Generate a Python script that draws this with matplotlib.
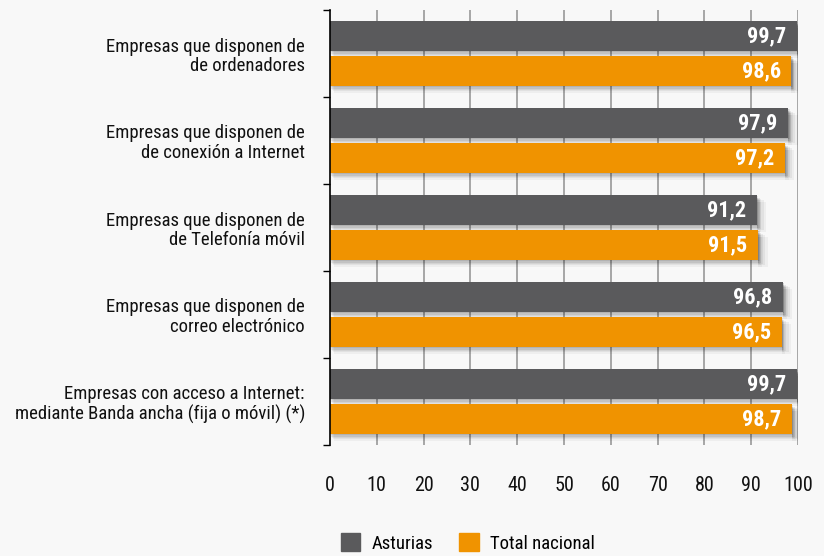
import matplotlib
matplotlib.use("Agg")
import matplotlib.pyplot as plt
from matplotlib.patches import Patch
import numpy as np

categorias = [
    "Empresas que disponen de\nde ordenadores",
    "Empresas que disponen de\nde conexión a Internet",
    "Empresas que disponen de\nde Telefonía móvil",
    "Empresas que disponen de\ncorreo electrónico",
    "Empresas con acceso a Internet:\nmediante Banda ancha (fija o móvil) (*)",
]
asturias = [99.7, 97.9, 91.2, 96.8, 99.7]
nacional = [98.6, 97.2, 91.5, 96.5, 98.7]
series = ["Asturias", "Total nacional"]
ticks = [0, 10, 20, 30, 40, 50, 60, 70, 80, 90, 100]

gris = "#5a5a5c"
naranja = "#f09300"
fondo = "#f8f8f8"

plt.rcParams["font.family"] = ["Roboto Condensed", "DejaVu Sans"]

fig = plt.figure(figsize=(8.24, 5.56), dpi=100, facecolor=fondo)
ax = fig.add_axes([330 / 824, 1 - 445 / 556, 468 / 824, 435 / 556], facecolor=fondo)

n = len(categorias)
y = np.arange(n)
h = 0.345
off = 0.2

# vertical grid
for t in ticks[1:]:
    ax.axvline(t, color="#a0a0a0", lw=1.3, zorder=0)

# soft drop shadow
for dx, dy, a in [(2.0, 0.08, 0.04), (1.5, 0.06, 0.05), (1.0, 0.045, 0.06), (0.6, 0.03, 0.08), (0.3, 0.015, 0.08)]:
    ax.barh(y - off + dy, asturias, height=h, left=dx * 0.4, color="black", alpha=a, zorder=1, lw=0)
    ax.barh(y + off + dy, nacional, height=h, left=dx * 0.4, color="black", alpha=a, zorder=1, lw=0)
    ax.barh(y - off + dy, [dx] * n, height=h, left=asturias, color="black", alpha=a, zorder=1, lw=0)
    ax.barh(y + off + dy, [dx] * n, height=h, left=nacional, color="black", alpha=a, zorder=1, lw=0)

ax.barh(y - off, asturias, height=h, color=gris, zorder=2, lw=0)
ax.barh(y + off, nacional, height=h, color=naranja, zorder=2, lw=0)

for i in range(n):
    ax.text(asturias[i] - 2.3, y[i] - off, f"{asturias[i]:.1f}".replace(".", ","),
            ha="right", va="center", color="white", fontsize=16, fontweight="bold", zorder=3)
    ax.text(nacional[i] - 2.3, y[i] + off, f"{nacional[i]:.1f}".replace(".", ","),
            ha="right", va="center", color="white", fontsize=16, fontweight="bold", zorder=3)

ax.set_xlim(0, 100)
ax.set_ylim(n - 0.5, -0.5)
ax.set_xticks(ticks)
ax.set_xticklabels([str(t) for t in ticks], fontsize=14.5, color="#111111")
ax.tick_params(axis="x", length=0, pad=22)
ax.set_yticks(np.arange(n + 1) - 0.5, minor=True)
ax.set_yticks(y)
ax.set_yticklabels(categorias, fontsize=13.5, color="#111111", ha="right", linespacing=1.1)
ax.tick_params(axis="y", which="major", length=0, pad=18)
ax.tick_params(axis="y", which="minor", length=5, width=1, color="black")
for lab in ax.get_yticklabels():
    lab.set_multialignment("right")
for s in ["top", "right", "bottom"]:
    ax.spines[s].set_visible(False)
ax.spines["left"].set_color("black")
ax.spines["left"].set_linewidth(1.2)

handles = [Patch(color=gris), Patch(color=naranja)]
fig.legend(handles, series, loc="center", bbox_to_anchor=(468 / 824, 13 / 556), ncol=2,
           frameon=False, fontsize=13.5, handlelength=1.05, handleheight=1.05,
           columnspacing=1.4, handletextpad=0.6, borderpad=0)

fig.savefig("out.png", dpi=100, facecolor=fondo)
